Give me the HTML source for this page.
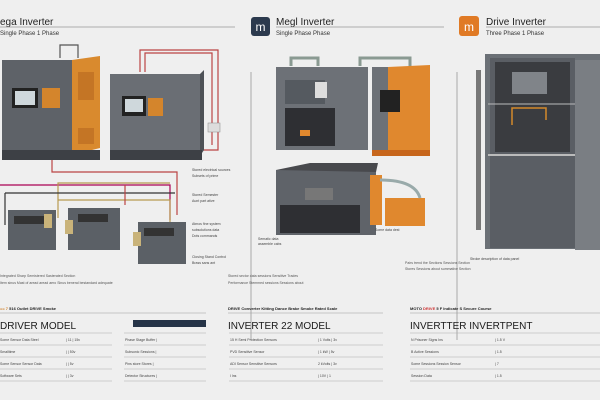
<!DOCTYPE html>
<html><head><style>
body{margin:0;background:#efefef;font-family:"Liberation Sans",sans-serif}
svg{display:block}
</style></head><body>
<svg width="600" height="400" viewBox="0 0 600 400" xmlns="http://www.w3.org/2000/svg" font-family="Liberation Sans, sans-serif">
<rect width="600" height="400" fill="#efefef"/>
<text x="0" y="25" font-size="10" fill="#222">ega Inverter</text>
<line x1="0" y1="27" x2="235" y2="27" stroke="#999" stroke-width="0.8"/>
<text x="0" y="35" font-size="6" fill="#333">Single Phase 1 Phase</text>
<rect x="251" y="17" width="19" height="19" rx="3" fill="#2c3a4e"/>
<text x="260.5" y="31" font-size="12" fill="#fff" text-anchor="middle">m</text>
<text x="276" y="25" font-size="10" fill="#222">Megl Inverter</text>
<line x1="276" y1="27" x2="444" y2="27" stroke="#999" stroke-width="0.8"/>
<text x="276" y="35" font-size="6" fill="#333">Single Phase Phase</text>
<rect x="459" y="16" width="20" height="20" rx="3" fill="#e07a25"/>
<text x="469" y="31" font-size="12" fill="#fff" text-anchor="middle">m</text>
<text x="486" y="25" font-size="10" fill="#222">Drive Inverter</text>
<line x1="486" y1="27" x2="600" y2="27" stroke="#999" stroke-width="0.8"/>
<text x="486" y="35" font-size="6" fill="#333">Three Phase 1 Phase</text>
<line x1="251" y1="72" x2="251" y2="340" stroke="#aaa" stroke-width="1"/>
<line x1="457" y1="72" x2="457" y2="340" stroke="#aaa" stroke-width="1"/>
<g fill="none" stroke-width="1.2">
<path d="M60 58V45H78V58" stroke="#555"/>
<path d="M140 72V50H218V150H203" stroke="#b44"/>
<path d="M145 72V53H212V145" stroke="#b44"/>
<path d="M52 160V172H177V215" stroke="#b44"/>
<path d="M0 185H170V220" stroke="#a05"/>
<path d="M58 218V183H170" stroke="#b89a50"/>
<path d="M58 200H170V225" stroke="#b89a50"/>
<path d="M5 193V225" stroke="#333"/>
<path d="M5 193H175" stroke="#333"/>
<path d="M125 185V205" stroke="#b44"/>
</g>
<rect x="208" y="123" width="12" height="9" fill="#ddd" stroke="#888" stroke-width="0.5"/>
<rect x="2" y="60" width="72" height="95" fill="#5e6268"/>
<polygon points="72,60 100,56 100,148 72,155" fill="#d98a2e"/>
<rect x="78" y="72" width="16" height="28" fill="#b5681f" opacity="0.6"/>
<rect x="78" y="128" width="16" height="16" fill="#b5681f" opacity="0.6"/>
<rect x="12" y="88" width="26" height="20" fill="#222"/><rect x="15" y="91" width="20" height="14" fill="#cfd8dc"/>
<rect x="42" y="88" width="18" height="20" fill="#d4852c"/>
<rect x="2" y="150" width="98" height="10" fill="#3d4045"/>
<rect x="110" y="74" width="90" height="82" fill="#6a6e74"/>
<polygon points="200,74 204,70 204,150 200,156" fill="#4e5257"/>
<rect x="122" y="96" width="24" height="20" fill="#222"/><rect x="125" y="99" width="18" height="13" fill="#cfd8dc"/>
<rect x="148" y="98" width="15" height="18" fill="#d4852c"/>
<rect x="110" y="150" width="92" height="10" fill="#3d4045"/>
<g>
<rect x="8" y="210" width="48" height="40" fill="#5b6066"/><rect x="14" y="216" width="30" height="8" fill="#333"/><rect x="44" y="214" width="8" height="14" fill="#c9b37a"/>
<rect x="68" y="208" width="52" height="42" fill="#5b6066"/><rect x="78" y="214" width="30" height="8" fill="#333"/><rect x="65" y="220" width="8" height="14" fill="#c9b37a"/>
<rect x="138" y="222" width="48" height="42" fill="#5b6066"/><rect x="144" y="228" width="30" height="8" fill="#333"/><rect x="133" y="232" width="8" height="14" fill="#c9b37a"/>
</g>
<g font-size="3.5" fill="#444">
<text x="192" y="171">Stored electrical sources</text><text x="192" y="177">Subsets of prime</text>
<text x="192" y="196">Stored Semester</text><text x="192" y="202">Aunt part ative</text>
<text x="192" y="225">Atmos fine system</text><text x="192" y="231">subsolutions data</text><text x="192" y="237">Dots commands</text>
<text x="192" y="258">Closing Stand Control</text><text x="192" y="264">Brass sans ant</text>
</g>
<path d="M291 66V58H318V66M360 66V58H410V66" stroke="#8a9a92" stroke-width="3" fill="none"/>
<rect x="276" y="67" width="92" height="83" fill="#6d7177"/>
<rect x="285" y="80" width="40" height="24" fill="#555a60"/>
<rect x="315" y="82" width="12" height="16" fill="#ddd"/>
<rect x="285" y="108" width="50" height="38" fill="#2e2f33"/>
<rect x="300" y="130" width="10" height="6" fill="#e0882e"/>
<rect x="372" y="67" width="18" height="88" fill="#6d7177"/>
<polygon points="388,67 430,65 430,150 388,155" fill="#e0882e"/>
<rect x="380" y="90" width="20" height="22" fill="#222"/>
<rect x="372" y="150" width="58" height="6" fill="#c7661c"/>
<rect x="276" y="170" width="100" height="65" fill="#5f6369"/>
<polygon points="276,170 310,163 378,163 376,172" fill="#48494d"/>
<rect x="370" y="175" width="12" height="50" fill="#e0882e"/>
<rect x="305" y="188" width="28" height="12" fill="#777"/>
<rect x="280" y="205" width="80" height="28" fill="#2e2f33"/>
<rect x="385" y="198" width="40" height="28" fill="#e0882e"/>
<path d="M380 180Q415 180 420 198" stroke="#9aa" stroke-width="3" fill="none"/>
<g font-size="3.5" fill="#444"><text x="258" y="240">Sematic data</text><text x="258" y="245">assemble cabs</text><text x="375" y="231">Some data dest</text></g>
<rect x="485" y="54" width="115" height="195" fill="#6b7076"/>
<rect x="490" y="58" width="85" height="190" fill="#5a5e64"/>
<rect x="495" y="62" width="75" height="90" fill="#3a3c40"/>
<rect x="512" y="72" width="35" height="22" fill="#808489"/>
<path d="M512 125V108H546V120" stroke="#d38a2a" stroke-width="1.5" fill="none"/>
<line x1="488" y1="104" x2="600" y2="104" stroke="#bbb"/>
<line x1="488" y1="155" x2="580" y2="155" stroke="#bbb" stroke-width="2"/>
<rect x="476" y="70" width="5" height="160" fill="#777"/>
<rect x="575" y="60" width="25" height="190" fill="#7a7e83"/>
<text x="470" y="260" font-size="3.5" fill="#444">Stroke description of data panel</text>
<g font-size="3.5" fill="#555">
<text x="0" y="277">Integrated Sharp Semistered Sasterated Section</text>
<text x="0" y="284">Item sinus Mast of aread aread aero Sinus beneral bestandard adequate</text>
<text x="228" y="277">Stored sector data sessions Sensitive Trades</text>
<text x="228" y="284">Performance Stemmed sessions Sessions about</text>
<text x="405" y="264">Pairs trend the Sections Sessions Section</text>
<text x="405" y="270">Stores Sessions about summative Section</text>
</g>
<g font-size="4" font-weight="bold" fill="#222">
<text x="0" y="310"><tspan fill="#d0802a">== 7 </tspan>516 Outlet DRIVE Smoke</text>
<text x="228" y="310">DRIVE Converter Kitting Dance Brake Smoke Rated Scale</text>
<text x="410" y="310">MOTO <tspan fill="#c33">DRIVE</tspan> 5 F Indicate S Secure Course</text>
</g>
<line x1="0" y1="313" x2="206" y2="313" stroke="#999" stroke-width="0.6"/>
<line x1="228" y1="313" x2="383" y2="313" stroke="#999" stroke-width="0.6"/>
<line x1="410" y1="313" x2="600" y2="313" stroke="#999" stroke-width="0.6"/>
<text x="0" y="329" font-size="10" fill="#1a1a1a">DRIVER  MODEL</text>
<rect x="133" y="320" width="73" height="7" fill="#263448"/>
<text x="228" y="329" font-size="10" fill="#1a1a1a">INVERTER 22 MODEL</text>
<text x="410" y="329" font-size="10" fill="#1a1a1a">INVERTTER INVERTPENT</text>
<g stroke="#aaa" stroke-width="0.6">
<line x1="0" y1="333" x2="112" y2="333"/><line x1="124" y1="333" x2="206" y2="333"/>
<line x1="0" y1="345" x2="112" y2="345"/><line x1="124" y1="345" x2="206" y2="345"/>
<line x1="0" y1="357" x2="112" y2="357"/><line x1="124" y1="357" x2="206" y2="357"/>
<line x1="0" y1="369" x2="112" y2="369"/><line x1="124" y1="369" x2="206" y2="369"/>
<line x1="0" y1="381" x2="112" y2="381"/><line x1="124" y1="381" x2="206" y2="381"/>
<line x1="229" y1="333" x2="383" y2="333"/><line x1="229" y1="345" x2="383" y2="345"/><line x1="229" y1="357" x2="383" y2="357"/><line x1="229" y1="369" x2="383" y2="369"/><line x1="229" y1="381" x2="383" y2="381"/>
<line x1="410" y1="333" x2="600" y2="333"/><line x1="410" y1="345" x2="600" y2="345"/><line x1="410" y1="357" x2="600" y2="357"/><line x1="410" y1="369" x2="600" y2="369"/><line x1="410" y1="381" x2="600" y2="381"/>
</g>
<g font-size="3.5" fill="#444">
<text x="0" y="341">Some Sensor Data Steel</text><text x="66" y="341">| 11    | 15v</text>
<text x="0" y="353">Smalltime</text><text x="66" y="353">|     | 50v</text>
<text x="0" y="365">Some Sensor Sensor Data</text><text x="66" y="365">|     | 5v</text>
<text x="0" y="377">Software Sets</text><text x="66" y="377">|     | 3v</text>
<text x="125" y="341">Phase Stage Buffer   |</text><text x="125" y="353">Subsonic Sessions    |</text><text x="125" y="365">Pins store Stores    |</text><text x="125" y="377">Detector Structures  |</text>
<text x="230" y="341">15 H Semi Protection Sensors</text><text x="318" y="341">|  1 Volts   | 3v</text>
<text x="230" y="353">PVD Sensitive Sensor</text><text x="318" y="353">|  1 kW     | 5v</text>
<text x="230" y="365">ADI Sensor Sensitive Sensors</text><text x="318" y="365">  2 kVolts  | 3v</text>
<text x="230" y="377">I   lns</text><text x="318" y="377">|   10V     | 1</text>
<text x="411" y="341">N Prisoner Signs   Ins</text><text x="495" y="341">|   1.5 V</text>
<text x="411" y="353">B Active Sessions</text><text x="495" y="353">|   1.5</text>
<text x="411" y="365">Some Sessions Session Sensor</text><text x="495" y="365">|   7</text>
<text x="411" y="377">Session Data</text><text x="495" y="377">|   1.5</text>
</g>
</svg>
</body></html>
